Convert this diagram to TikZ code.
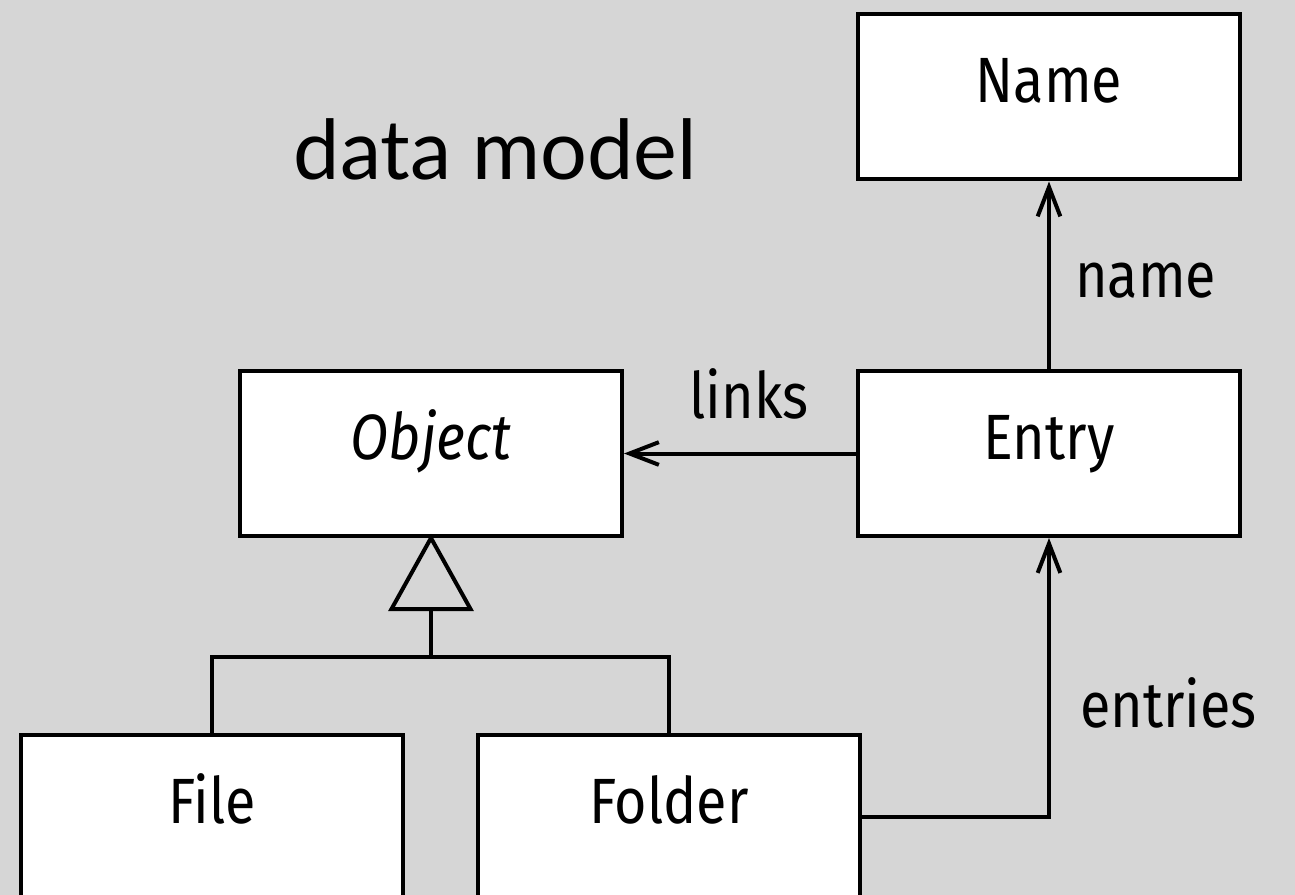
\documentclass[tikz,border=0pt]{standalone}
\usepackage{fontspec}
\setmainfont[FakeStretch=0.87]{Fira Sans}
\newfontfamily\titlefont{Lato}
\usetikzlibrary{arrows.meta}
\definecolor{bg}{RGB}{214,214,214}
\tikzset{
  cls/.style={draw=black, line width=3pt, fill=white, rectangle,
    minimum width=286.5pt, minimum height=123.75pt, inner sep=0pt,
    text height=30pt, text depth=21pt, font=\fontsize{48}{56}\selectfont},
  lbl/.style={inner sep=0pt, font=\fontsize{48}{56}\selectfont},
  conn/.style={line width=3pt, -{Straight Barb[length=22pt, width=17pt, line width=3pt]}},
  gen/.style={line width=3pt, line join=miter}
}
\begin{document}
\begin{tikzpicture}[x=0.75pt, y=-0.75pt]
\useasboundingbox (0,0) rectangle (1295,895);
\clip (0,0) rectangle (1295,895);
\fill[bg] (0,0) rectangle (1295,895);
\node[cls] (Name) at (1049,97) {Name};
\node[cls] (Entry) at (1049,453.5) {Entry};
\node[cls] (Object) at (431,453.5) {\itshape Object};
\node[cls] (File) at (212,817) {File};
\node[cls] (Folder) at (669,817) {Folder};
\node[anchor=base, inner sep=0pt, font=\titlefont\fontsize{62}{70}\selectfont] (title) at (495.5,180) {data model};
\node[lbl, anchor=base] (links) at (749,418) {links};
\node[lbl, anchor=base west] (namel) at (1075,297) {name};
\node[lbl, anchor=base west] (entriesl) at (1080,727) {entries};
\draw[conn] (Entry.north) -- (Name.south);
\draw[conn] (Entry.west) -- (Object.east);
\coordinate (fo) at (860,817);
\draw[conn] (Folder.east |- fo) -| (Entry.south);
\coordinate (tb) at (431,607);
\coordinate (bar) at (431,657);
\draw[gen] (Object.south) -- ++(-39.5,71) -- ++(79,0) -- cycle;
\draw[gen] (tb) -- (bar);
\draw[gen] (File.north) |- (bar) -| (Folder.north);
\end{tikzpicture}
\end{document}
